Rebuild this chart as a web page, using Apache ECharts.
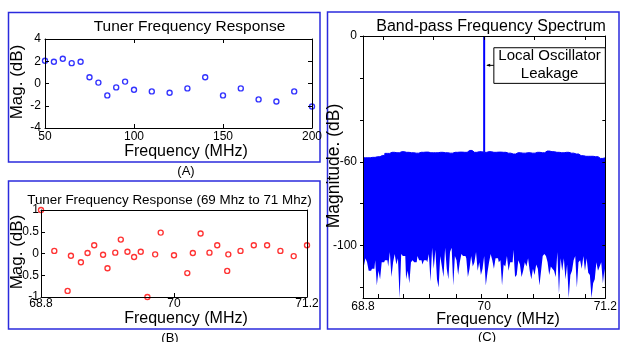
<!DOCTYPE html>
<html>
<head>
<meta charset="utf-8">
<script src="https://cdn.jsdelivr.net/npm/echarts@6/dist/echarts.min.js"></script>
<style>
  html, body { margin: 0; padding: 0; background: #fff; }
  #chart { width: 620px; height: 342px; }
</style>
</head>
<body>
<div id="chart"></div>
<script>
// (A) tuner response, 50-200 MHz
const aFreq = [50, 55, 60, 65, 70, 75, 80, 85, 90, 95, 100, 110, 120, 130, 140, 150, 160, 170, 180, 190, 200];
const aMag = [2.04, 1.95, 2.22, 1.83, 1.95, 0.56, 0.08, -1.07, -0.35, 0.17, -0.56, -0.71, -0.83, -0.44, 0.56, -1.07, -0.44, -1.43, -1.62, -0.71, -2.07];

// (B) tuner response, 69-71 MHz
const bFreq = [68.8, 68.92, 69.04, 69.07, 69.16, 69.22, 69.28, 69.36, 69.40, 69.47, 69.52, 69.58, 69.64, 69.70, 69.76, 69.83,
  69.88, 70.0, 70.12, 70.17, 70.24, 70.32, 70.39, 70.48, 70.49, 70.60, 70.72, 70.84, 70.96, 71.08, 71.2];
const bMag = [1.0, 0.06, -0.86, -0.05, -0.20, 0.01, 0.19, -0.03, -0.34, 0.02, 0.32, 0.04, -0.08, 0.04, -1.0, -0.02,
  0.48, -0.04, -0.45, 0.01, 0.46, 0.02, 0.19, -0.40, -0.02, 0.06, 0.19, 0.19, 0.06, -0.06, 0.19];

// (C) band-pass spectrum: top and bottom of the noise band, sampled evenly over 68.8-71.2 MHz
const noiseTop = [-58.1, -58.1, -57.9, -57.6, -57.0, -56.0, -55.5, -55.7, -55.2, -55.5, -55.7, -55.9, -55.5, -55.4, -55.7, -55.7,
  -55.5, -55.7, -55.9, -55.5, -55.4, -55.5, -54.6, -55.5, -55.2, -55.5, -55.2, -55.5, -55.4, -55.5, -55.9, -56.3, -55.7, -55.9,
  -55.7, -55.9, -55.5, -55.7, -54.9, -55.2, -55.5, -55.7, -55.5, -55.9, -56.3, -57.1, -57.4, -57.4, -57.6, -58.4, -58.1];
const noiseBottom = [-106, -110, -106, -108, -112, -112, -111, -111, -107, -119, -112, -116, -108, -108, -107, -107, -110, -103,
  -115, -108, -104, -109, -106, -125, -104, -105, -105, -116, -112, -118, -108, -107, -108, -108, -105, -107, -107, -109, -107,
  -107, -108, -104, -117, -101, -111, -102, -116, -120, -105, -110, -115, -101, -111, -116, -103, -101, -119, -105, -107, -114,
  -108, -104, -105, -105, -106, -115, -111, -105, -110, -108, -103, -112, -108,
  -114, -111, -105, -119, -113, -108, -104, -107, -111, -106, -106, -108, -107, -119, -109, -110, -105, -112, -108, -108, -102,
  -115, -114, -107, -109, -115, -112, -108, -110, -106, -112, -116, -111, -114, -109, -111, -119, -112, -105, -104, -105, -108,
  -114, -110, -111, -112, -115, -103, -123, -106, -112, -106, -116, -109, -125, -114, -112, -107, -105, -120, -108, -107, -111,
  -105, -112, -106, -113, -114, -125, -118, -116, -108, -112, -110, -108, -118, -111];
const loFreq = 70.0;
const loPeak = 0;

const cTicksBottom = [68.95, 69.2, 69.46, 69.72, 69.975, 70.23, 70.49, 70.74, 71.0];
const cTicksTop = [69, 69.5, 70, 70.5, 71];
const cTicksY = [0, -20, -40, -60, -80, -100, -120];
const cLabelsY = [0, -60, -100];
const cLabelsX = [68.8, 70, 71.2];

const FONT = 'Liberation Sans';
const BLUE = '#0000ff';

const spread = (arr, lo, hi) => arr.map((v, i) => [lo + (hi - lo) * i / (arr.length - 1), v]);

const line = { onZero: false, lineStyle: { color: '#000', width: 1 } };
const label = { color: '#000', fontSize: 12, fontFamily: FONT };

function frameX(gi, min, max, opts) {
  return [
    Object.assign({
      type: 'value', gridIndex: gi, min: min, max: max, position: 'bottom', z: 10,
      axisLine: line, splitLine: { show: false },
      axisTick: { inside: true, length: 4, lineStyle: { color: '#000' } },
      axisLabel: Object.assign({ margin: 3 }, label)
    }, opts.bottom || {}),
    Object.assign({
      type: 'value', gridIndex: gi, min: min, max: max, position: 'top', z: 10,
      axisLine: line, splitLine: { show: false }, axisLabel: { show: false },
      axisTick: { inside: true, length: 4, lineStyle: { color: '#000' } }
    }, opts.top || {})
  ];
}

function frameY(gi, min, max, opts) {
  return [
    Object.assign({
      type: 'value', gridIndex: gi, min: min, max: max, position: 'left', z: 10,
      axisLine: line, splitLine: { show: false },
      axisTick: { inside: true, length: 4, lineStyle: { color: '#000' } },
      axisLabel: Object.assign({ margin: 4 }, label)
    }, opts.left || {}),
    Object.assign({
      type: 'value', gridIndex: gi, min: min, max: max, position: 'right', z: 10,
      axisLine: line, splitLine: { show: false }, axisLabel: { show: false },
      axisTick: { inside: true, length: 4, lineStyle: { color: '#000' } }
    }, opts.right || {})
  ];
}

const xAxes = [].concat(
  frameX(0, 50, 200, { bottom: { interval: 50 }, top: { interval: 50 } }),
  frameX(1, 68.8, 71.2, {
    bottom: { axisLabel: Object.assign({ margin: 1, customValues: cLabelsX }, label), axisTick: { inside: true, length: 4, customValues: cLabelsX, lineStyle: { color: '#000' } } },
    top: { axisTick: { show: false } }
  }),
  frameX(2, 68.8, 71.2, {
    bottom: {
      axisLabel: Object.assign({ margin: 3, customValues: cLabelsX }, label),
      axisTick: { inside: true, length: 4, customValues: cTicksBottom, lineStyle: { color: '#000' } }
    },
    top: { axisTick: { inside: true, length: 4, customValues: cTicksTop, lineStyle: { color: '#000' } } }
  })
);

const yAxes = [].concat(
  frameY(0, -4, 4, { left: { interval: 2 }, right: { interval: 2 } }),
  frameY(1, -1, 1, { left: { interval: 0.5, axisLabel: Object.assign({ margin: 2 }, label) }, right: { axisTick: { show: false } } }),
  frameY(2, -125, 0, {
    left: {
      axisLabel: Object.assign({ margin: 6, customValues: cLabelsY }, label),
      axisTick: { inside: false, length: 3, customValues: cTicksY, lineStyle: { color: '#000' } }
    },
    right: { axisTick: { inside: true, length: 3, customValues: cTicksY, lineStyle: { color: '#000' } } }
  })
);

const chart = echarts.init(document.getElementById('chart'), null, { renderer: 'canvas' });

const option = {
  animation: false,
  backgroundColor: '#fff',
  grid: [
    { left: 45, top: 39, width: 267, height: 89 },
    { left: 41, top: 210, width: 266, height: 87 },
    { left: 363, top: 36, width: 250, height: 262 }
  ],
  xAxis: xAxes,
  yAxis: yAxes,
  series: [
    {
      type: 'scatter', xAxisIndex: 0, yAxisIndex: 0,
      data: aFreq.map((f, i) => [f, aMag[i]]),
      symbol: 'circle', symbolSize: 5,
      itemStyle: { color: '#fff', borderColor: BLUE, borderWidth: 1.4 }
    },
    {
      type: 'scatter', xAxisIndex: 2, yAxisIndex: 2,
      data: bFreq.map((f, i) => [f, bMag[i]]),
      symbol: 'circle', symbolSize: 5,
      itemStyle: { color: '#fff', borderColor: '#ff0000', borderWidth: 1.4 }
    },
    {
      type: 'line', xAxisIndex: 4, yAxisIndex: 4, z: 2,
      data: spread(noiseTop, 68.8, 71.2),
      step: 'middle', symbol: 'none',
      lineStyle: { color: BLUE, width: 1 },
      areaStyle: { color: BLUE, opacity: 1, origin: 'start' }
    },
    {
      type: 'line', xAxisIndex: 4, yAxisIndex: 4, z: 3,
      data: spread(noiseBottom, 68.8, 71.2),
      step: 'middle', symbol: 'none',
      lineStyle: { width: 0 },
      areaStyle: { color: '#fff', opacity: 1, origin: 'start' }
    },
    {
      type: 'line', xAxisIndex: 4, yAxisIndex: 4, z: 4,
      data: [[loFreq, noiseTop[25]], [loFreq, loPeak]],
      symbol: 'none',
      lineStyle: { color: BLUE, width: 2 }
    }
  ]
};
chart.setOption(option);

// text and annotations
const txt = (x, y, s, size, rot) => ({
  type: 'text', x: x, y: y, rotation: rot || 0, z: 30,
  style: { text: s, fill: '#000', font: size + 'px "' + FONT + '"', align: 'center', verticalAlign: 'middle' }
});
const box = (x1, y1, x2, y2) => ({
  type: 'rect', z: 1, shape: { x: x1, y: y1, width: x2 - x1, height: y2 - y1 },
  style: { fill: 'none', stroke: '#2b2bdd', lineWidth: 1.5 }
});

const bl = chart.convertToPixel({ xAxisIndex: 4, yAxisIndex: 4 }, [70.096, -5.6]);
const br = chart.convertToPixel({ xAxisIndex: 4, yAxisIndex: 4 }, [71.2, -22.6]);
const arrowY = chart.convertToPixel({ xAxisIndex: 4, yAxisIndex: 4 }, [70.01, -14]);

chart.setOption({
  graphic: [
    box(8.5, 12.5, 320, 162),
    box(8.5, 181, 320, 329),
    box(327.5, 12, 619, 329),
    txt(189.5, 27, 'Tuner Frequency Response', 15.5),
    txt(17, 82, 'Mag. (dB)', 17, Math.PI / 2),
    txt(186, 152, 'Frequency (MHz)', 16),
    txt(186, 171.5, '(A)', 13),
    txt(169.5, 200.5, 'Tuner Frequency Response (69 Mhz to 71 Mhz)', 13.4),
    txt(17, 252, 'Mag. (dB)', 17, Math.PI / 2),
    txt(186, 319, 'Frequency (MHz)', 16),
    txt(170, 338, '(B)', 13),
    txt(491, 27, 'Band-pass Frequency Spectrum', 16),
    txt(334, 166, 'Magnitude. (dB)', 17.5, Math.PI / 2),
    txt(498, 320, 'Frequency (MHz)', 16),
    txt(487, 337, '(C)', 13),
    {
      type: 'rect', z: 21,
      shape: { x: bl[0], y: bl[1], width: br[0] - bl[0], height: br[1] - bl[1] },
      style: { fill: '#fff', stroke: '#000', lineWidth: 1 }
    },
    txt((bl[0] + br[0]) / 2, bl[1] + 8.5, 'Local Oscillator', 15),
    txt((bl[0] + br[0]) / 2, br[1] - 9.5, 'Leakage', 15),
    {
      type: 'line', z: 21,
      shape: { x1: bl[0], y1: arrowY[1], x2: arrowY[0] + 2, y2: arrowY[1] },
      style: { stroke: '#000', lineWidth: 1 }
    },
    {
      type: 'polygon', z: 21,
      shape: { points: [[arrowY[0] + 1, arrowY[1]], [arrowY[0] + 5, arrowY[1] - 1.5], [arrowY[0] + 5, arrowY[1] + 1.5]] },
      style: { fill: '#000' }
    }
  ]
});
</script>
</body>
</html>
